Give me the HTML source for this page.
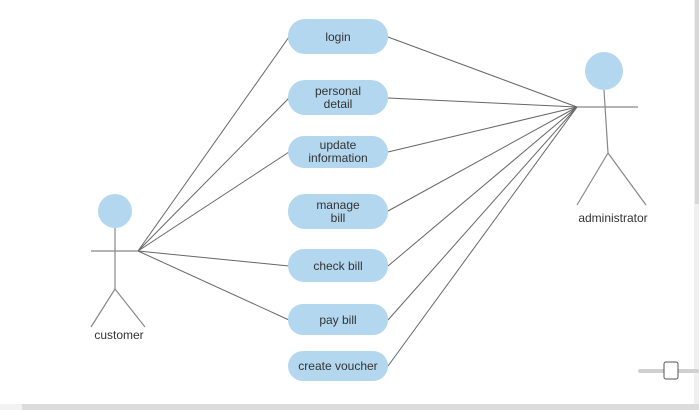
<!DOCTYPE html>
<html><head><meta charset="utf-8"><style>
html,body{margin:0;padding:0;background:#fff;width:699px;height:410px;overflow:hidden}
svg{display:block}
text{font-family:"Liberation Sans",Arial,sans-serif;font-size:12px;fill:#333}
</style></head><body>
<svg width="699" height="410" viewBox="0 0 699 410" xmlns="http://www.w3.org/2000/svg">
<rect width="699" height="410" fill="#fff"/>
<g stroke="#666" stroke-width="1" fill="none">
<line x1="138" y1="251" x2="289" y2="37"/>
<line x1="138" y1="251" x2="289" y2="98"/>
<line x1="138" y1="251" x2="289" y2="152"/>
<line x1="138" y1="251" x2="289" y2="266"/>
<line x1="138" y1="251" x2="289" y2="320"/>
<line x1="577" y1="107" x2="388" y2="37"/>
<line x1="577" y1="107" x2="388" y2="98"/>
<line x1="577" y1="107" x2="388" y2="152"/>
<line x1="577" y1="107" x2="388" y2="211"/>
<line x1="577" y1="107" x2="388" y2="266"/>
<line x1="577" y1="107" x2="388" y2="320"/>
<line x1="577" y1="107" x2="388" y2="366"/>
</g>
<g fill="#b3d7ef">
<rect x="288" y="19" width="100" height="35" rx="17"/>
<rect x="288" y="80" width="100" height="35" rx="17"/>
<rect x="288" y="136" width="100" height="32" rx="16"/>
<rect x="288" y="194" width="100" height="35" rx="17"/>
<rect x="288" y="249" width="100" height="33" rx="16"/>
<rect x="288" y="304" width="100" height="31" rx="15"/>
<rect x="288" y="351" width="100" height="30" rx="15"/>
</g>
<g text-anchor="middle">
<text x="338" y="41">login</text>
<text x="338" y="95">personal</text><text x="338" y="108">detail</text>
<text x="338" y="149">update</text><text x="338" y="162">information</text>
<text x="338" y="209">manage</text><text x="338" y="222">bill</text>
<text x="338" y="270">check bill</text>
<text x="338" y="324">pay bill</text>
<text x="338" y="370">create voucher</text>
<text x="119" y="339">customer</text>
<text x="613" y="222">administrator</text>
</g>
<circle cx="115" cy="211" r="17" fill="#b3d7ef"/>
<g stroke="#888" stroke-width="1.2" fill="none">
<line x1="91" y1="251" x2="138" y2="251"/>
<line x1="115" y1="228" x2="115" y2="289"/>
<line x1="115" y1="289" x2="91" y2="327"/>
<line x1="115" y1="289" x2="145" y2="327"/>
</g>
<circle cx="604" cy="71" r="19" fill="#b3d7ef"/>
<g stroke="#888" stroke-width="1.2" fill="none">
<line x1="577" y1="107" x2="638" y2="107"/>
<line x1="604" y1="90" x2="608" y2="153"/>
<line x1="608" y1="153" x2="577" y2="205"/>
<line x1="608" y1="153" x2="646" y2="205"/>
</g>
<rect x="694" y="0" width="5" height="404" fill="#f0f0f0"/>
<rect x="695" y="0" width="4" height="204" fill="#d8d8d8"/>
<rect x="0" y="404" width="699" height="6" fill="#dcdcdc"/>
<rect x="0" y="404" width="22" height="6" fill="#f2f2f2"/>
<rect x="638" y="369" width="61" height="4" rx="2" fill="#d0d0d0"/>
<rect x="664" y="362" width="14" height="17" rx="2" fill="#fff" stroke="#555" stroke-width="1"/>
</svg>
</body></html>
